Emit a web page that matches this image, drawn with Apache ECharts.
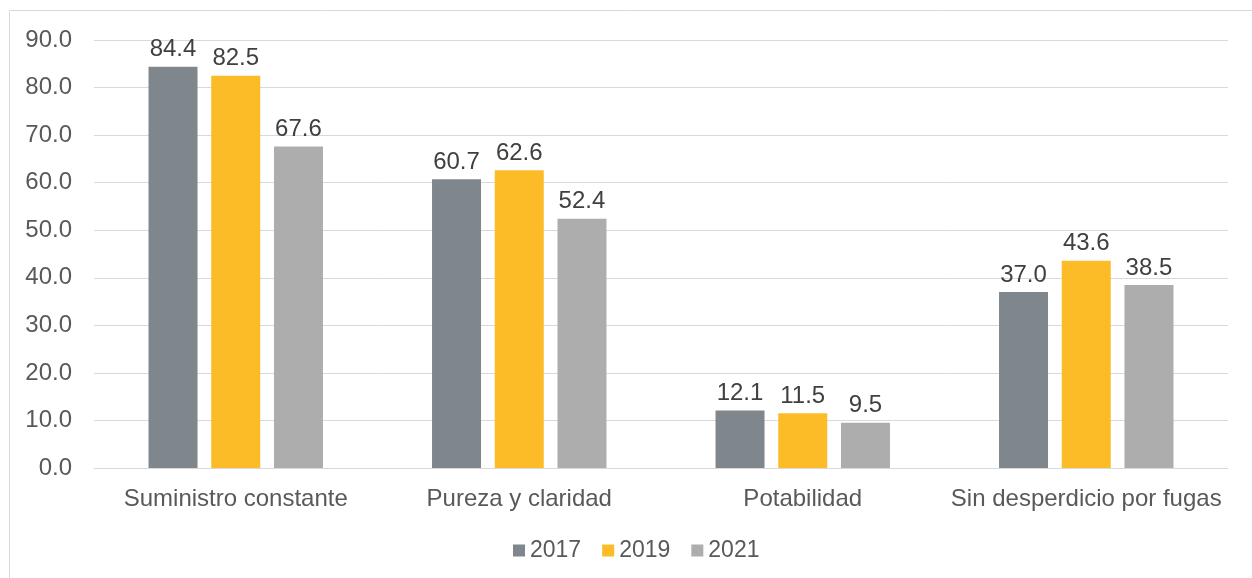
<!DOCTYPE html>
<html>
<head>
<meta charset="utf-8">
<script src="https://cdn.jsdelivr.net/npm/echarts@6/dist/echarts.min.js"></script>
<style>
  html, body { margin: 0; padding: 0; background: #fff; }
  #chart { width: 1252px; height: 578px; }
</style>
</head>
<body>
<div id="chart"></div>
<script>
var categories = ['Suministro constante', 'Pureza y claridad', 'Potabilidad', 'Sin desperdicio por fugas'];
var years = ['2017', '2019', '2021'];
var values2017 = [84.4, 60.7, 12.1, 37.0];
var values2019 = [82.5, 62.6, 11.5, 43.6];
var values2021 = [67.6, 52.4, 9.5, 38.5];
var colors = ['#7f878c', '#fbbc27', '#adadad'];

var font = 'Liberation Sans, Arial, sans-serif';

function makeSeries(name, data, color) {
    return {
        name: name,
        type: 'bar',
        data: data,
        barWidth: 49,
        barGap: '28%',
        itemStyle: { color: color },
        label: {
            show: true,
            position: 'top',
            distance: 5,
            color: '#404040',
            fontSize: 24,
            fontFamily: font,
            formatter: function (p) { return p.value.toFixed(1); }
        }
    };
}

var option = {
    animation: false,
    backgroundColor: '#fff',
    color: colors,
    graphic: [{
        type: 'rect',
        shape: { x: 9.5, y: 10.5, width: 1260, height: 600 },
        style: { fill: null, stroke: '#d9d9d9', lineWidth: 1 },
        silent: true
    }],
    grid: {
        left: 94,
        right: 24,
        top: 40,
        bottom: 110,
        containLabel: false
    },
    legend: {
        bottom: 11,
        left: 508,
        itemWidth: 12,
        itemHeight: 12,
        itemGap: 21,
        icon: 'rect',
        textStyle: { color: '#595959', fontSize: 23, fontFamily: font },
        data: years
    },
    xAxis: {
        type: 'category',
        data: categories,
        axisLine: { lineStyle: { color: '#d9d9d9', width: 1 } },
        axisTick: { show: false },
        axisLabel: {
            color: '#595959',
            fontSize: 24,
            fontFamily: font,
            margin: 19,
            interval: 0
        }
    },
    yAxis: {
        type: 'value',
        min: 0,
        max: 90,
        interval: 10,
        axisLine: { show: false },
        axisTick: { show: false },
        splitLine: { lineStyle: { color: '#d9d9d9', width: 1 } },
        axisLabel: {
            color: '#595959',
            fontSize: 24,
            fontFamily: font,
            margin: 22,
            formatter: function (v) { return v.toFixed(1); }
        }
    },
    series: [
        makeSeries(years[0], values2017, colors[0]),
        makeSeries(years[1], values2019, colors[1]),
        makeSeries(years[2], values2021, colors[2])
    ]
};

var chart = echarts.init(document.getElementById('chart'));
chart.setOption(option);
</script>
</body>
</html>
